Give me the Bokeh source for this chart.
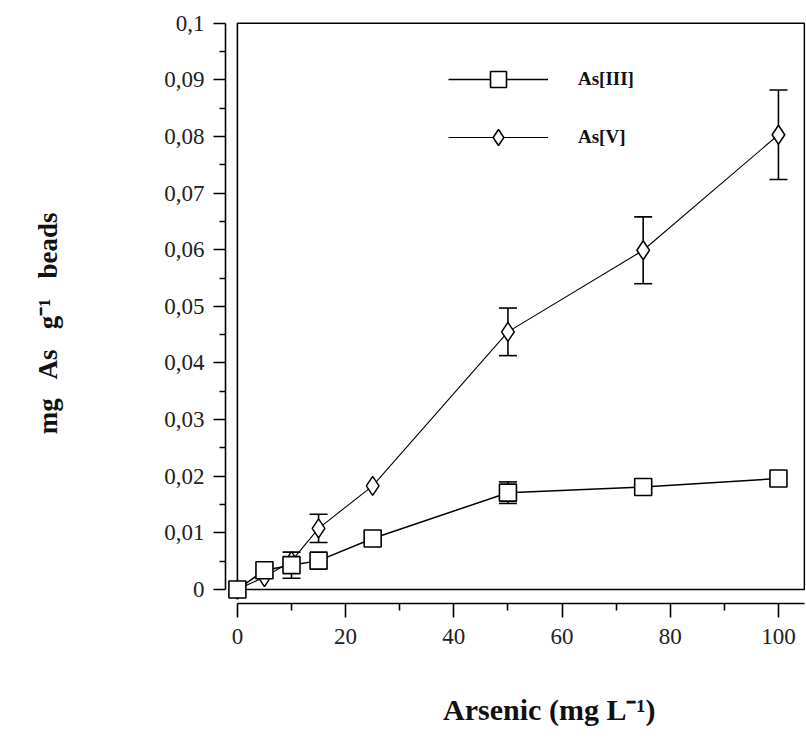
from bokeh.plotting import figure
from bokeh.models import (Range1d, FixedTicker, CustomJSTickFormatter, Whisker, TeeHead,
                          ColumnDataSource, BoxAnnotation, Legend, LegendItem)
from bokeh.embed import file_html
from bokeh.resources import INLINE

# ---- data ----
conc = [0, 5, 10, 15, 25, 50, 75, 100]
as3 = [0.0, 0.0034, 0.0043, 0.0051, 0.0090, 0.0171, 0.0181, 0.0196]
as3_err = [0, 0, 0.0023, 0, 0, 0.0019, 0, 0]
as5 = [0.0, 0.0022, 0.0050, 0.0108, 0.0183, 0.0455, 0.0599, 0.0803]
as5_err = [0, 0, 0, 0.0025, 0, 0.0042, 0.0059, 0.0079]

x_ticks = [0, 20, 40, 60, 80, 100]
x_minor = [10, 30, 50, 70, 90]
y_ticks = [0, 0.01, 0.02, 0.03, 0.04, 0.05, 0.06, 0.07, 0.08, 0.09, 0.1]
y_minor = [0.005, 0.015, 0.025, 0.035, 0.045, 0.055, 0.065, 0.075, 0.085, 0.095]

series_names = ["As[III]", "As[V]"]
NB = "\u00a0"
x_title = NB * 9 + "Arsenic (mg L\u207b\u00b9)"
y_title = "mg" + NB * 2 + " As" + NB * 2 + " g\u207b\u00b9" + NB * 2 + " beads" + NB * 3

X_MAX = 104.8      # right end of the frame box / x axis line
Y_MAX = 0.1
SERIF = "Liberation Serif"

p = figure(width=806, height=742, output_backend="svg", toolbar_location=None,
           x_range=Range1d(-2.2, 105.0), y_range=Range1d(-0.00247, 0.1003),
           min_border_left=225, min_border_right=1, min_border_top=21, min_border_bottom=139)
p.outline_line_color = None
p.xgrid.visible = False
p.ygrid.visible = False
p.background_fill_color = "white"
p.border_fill_color = "white"

# axes (offset from the frame)
for ax in (p.xaxis[0], p.yaxis[0]):
    ax.axis_line_width = 1.6
    ax.axis_line_color = "black"
    ax.major_tick_line_width = 1.6
    ax.minor_tick_line_width = 1.6
    ax.major_tick_line_color = "black"
    ax.minor_tick_line_color = "black"
    ax.major_tick_in = 0
    ax.minor_tick_in = 0
    ax.major_label_text_font = SERIF
    ax.major_label_text_font_size = "23px"
    ax.major_label_text_color = "#222222"
    ax.axis_label_text_font = SERIF
    ax.axis_label_text_font_style = "bold"
    ax.axis_label_text_color = "#111111"

p.xaxis[0].ticker = FixedTicker(ticks=x_ticks, minor_ticks=x_minor)
p.xaxis[0].bounds = (0, X_MAX)
p.xaxis[0].major_tick_out = 14
p.xaxis[0].minor_tick_out = 7
p.xaxis[0].major_label_standoff = 11
p.xaxis[0].axis_label = x_title
p.xaxis[0].axis_label_text_font_size = "30px"
p.xaxis[0].axis_label_standoff = 46

p.yaxis[0].ticker = FixedTicker(ticks=y_ticks, minor_ticks=y_minor)
p.yaxis[0].bounds = (0, Y_MAX)
p.yaxis[0].major_tick_out = 12
p.yaxis[0].minor_tick_out = 6
p.yaxis[0].major_label_standoff = 9
p.yaxis[0].formatter = CustomJSTickFormatter(code="""
    if (Math.abs(tick) < 1e-9) return "0";
    const s = (Math.round(tick * 100) / 100).toString();
    return s.replace('.', ',');
""")
p.yaxis[0].axis_label = y_title
p.yaxis[0].axis_label_text_font_size = "27px"
p.yaxis[0].axis_label_standoff = 98

# inner frame box
p.add_layout(BoxAnnotation(left=0, right=X_MAX, bottom=0, top=Y_MAX,
                           fill_alpha=0, line_color="black", line_alpha=1.0,
                           line_dash="solid", line_width=1.6, level="underlay"))

# error bars
def add_err(xs, ys, es):
    xs2 = [x for x, e in zip(xs, es) if e > 0]
    lo = [y - e for y, e in zip(ys, es) if e > 0]
    hi = [y + e for y, e in zip(ys, es) if e > 0]
    src = ColumnDataSource(dict(x=xs2, lower=lo, upper=hi))
    w = Whisker(base="x", lower="lower", upper="upper", source=src, dimension="height",
                line_color="black", line_width=1.6, level="underlay",
                upper_head=TeeHead(size=18, line_width=1.6, line_color="black"),
                lower_head=TeeHead(size=18, line_width=1.6, line_color="black"))
    p.add_layout(w)

add_err(conc, as3, as3_err)
add_err(conc, as5, as5_err)

src3 = ColumnDataSource(dict(x=conc, y=as3))
src5 = ColumnDataSource(dict(x=conc, y=as5))

l5 = p.line("x", "y", source=src5, line_color="black", line_width=1.1)
l3 = p.line("x", "y", source=src3, line_color="black", line_width=1.5)
m5 = p.scatter("x", "y", source=src5, marker="diamond", size=19,
               fill_color="white", line_color="black", line_width=1.5)
m3 = p.scatter("x", "y", source=src3, marker="square", size=17,
               fill_color="white", line_color="black", line_width=1.6)

legend = Legend(items=[LegendItem(label=series_names[0], renderers=[l3, m3]),
                       LegendItem(label=series_names[1], renderers=[l5, m5])],
                location=(223, 446), orientation="vertical",
                glyph_width=100, glyph_height=40, label_standoff=30, spacing=18,
                padding=0, margin=0, border_line_color=None, background_fill_alpha=0,
                label_text_font=SERIF, label_text_font_size="19px",
                label_text_font_style="bold", label_text_color="#111111")
p.add_layout(legend)

open("out.html", "w").write(file_html(p, INLINE))
